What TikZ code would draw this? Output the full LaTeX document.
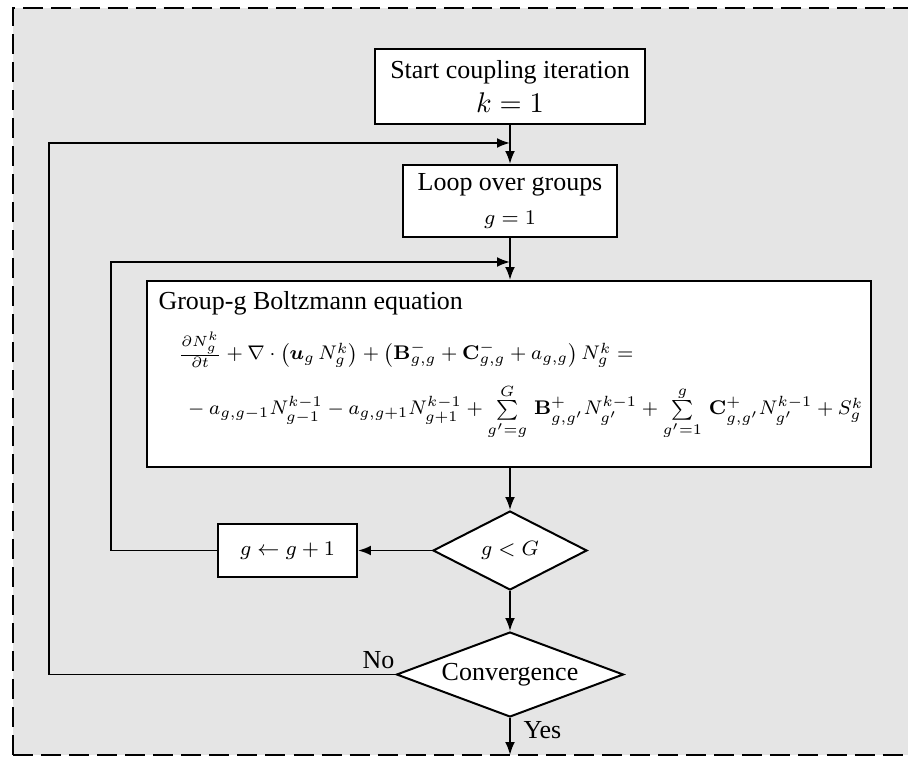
\documentclass[tikz,border=0pt]{standalone}
\usepackage{amsmath,amssymb}
\usepackage{graphicx}
\usepackage[no-math]{fontspec}
\setmainfont{Liberation Serif}
\usepackage{bm}
\usetikzlibrary{shapes.geometric,arrows.meta}
\definecolor{panelgrey}{HTML}{E5E5E5}

\begin{document}
\begin{tikzpicture}[x=0.385pt,y=-0.385pt,
  font=\fontsize{10}{12}\selectfont,
  box/.style={draw,line width=0.77pt,fill=white,inner sep=0pt,align=center},
  decision/.style={draw,line width=0.77pt,fill=white,shape=diamond,inner sep=0pt},
  flow/.style={line width=0.75pt,-{Latex[length=5pt,width=3.8pt]}},
  label/.style={inner sep=0pt},
  eqline/.style={inner sep=0pt,anchor=base west,font=\fontsize{8}{10}\selectfont}]

\useasboundingbox (0,0) rectangle (908,757);
\clip (0,0) rectangle (908,757);

% grey panel with dashed frame
\fill[panelgrey] (13,8) rectangle (940,755);
\draw[line width=0.77pt,dash pattern=on 7.7pt off 3.1pt] (13,755) -- (13,8) -- (940,8);
\draw[line width=0.77pt,dash pattern=on 7.7pt off 3.1pt] (13,755) -- (940,755);

% process boxes
\node[box,minimum width=103.6pt,minimum height=28.9pt] (start) at (510,86.5)
  {Start coupling iteration\\[1pt]{\fontsize{11}{13}\selectfont$k=1$}};
\node[box,minimum width=82.4pt,minimum height=27.7pt] (loop) at (510,201)
  {Loop over groups\\[1pt]{\fontsize{8}{10}\selectfont$g=1$}};
\node[box,minimum width=278.7pt,minimum height=71.6pt,anchor=north west] (group) at (146,280) {};
\node[label,anchor=west] (title) at (158,303) {Group-g Boltzmann equation};
\node[eqline] (eqa) at (178,360)
  {\scalebox{0.95}{$\frac{\partial N_g^k}{\partial t} + \nabla\cdot\bigl(\bm{u}_g\,N_g^k\bigr)
   + \bigl(\mathbf{B}^-_{g,g}+\mathbf{C}^-_{g,g}+a_{g,g}\bigr)\,N_g^k =$}};
\node[eqline] (eqb) at (183,415)
  {\scalebox{0.95}{${}-a_{g,g-1}N^{k-1}_{g-1} - a_{g,g+1}N^{k-1}_{g+1}
   + \sum\limits_{g'=g}^{G}\,\mathbf{B}^+_{g,g'}N^{k-1}_{g'}
   + \sum\limits_{g'=1}^{g}\,\mathbf{C}^+_{g,g'}N^{k-1}_{g'} + S_g^k$}};

% decisions and group increment
\node[decision,minimum width=59.3pt,minimum height=30.4pt,shape aspect=1.95] (test) at (510,550.5)
  {\fontsize{8}{10}\selectfont$g<G$};
\node[box,minimum width=53.5pt,minimum height=20.4pt] (incr) at (287.5,550.5)
  {\fontsize{8}{10}\selectfont$g\leftarrow g+1$};
\node[decision,minimum width=87.4pt,minimum height=32.7pt,shape aspect=2.67] (conv) at (510,674.5)
  {Convergence};
\node[label,anchor=east] (no) at (395,660) {No};
\node[label,anchor=west] (yes) at (523,730) {Yes};

% junctions of the loop-back lines
\coordinate (jk) at (510,143);
\coordinate (ck) at (49,143);
\coordinate (jg) at (510,262);
\coordinate (cg) at (111,262);
\coordinate (exit) at (510,755);

% connectors
\draw[flow] (start.south) -- (loop.north);
\draw[flow] (loop.south) -- (loop.south |- group.north);
\draw[flow] (group.south -| test.north) -- (test.north);
\draw[flow] (test.west) -- (incr.east);
\draw[flow] (test.south) -- (conv.north);
\draw[flow] (conv.south) -- (exit);
\draw[flow] (conv.west) -| (ck) -- (jk);
\draw[flow] (incr.west) -| (cg) -- (jg);
\end{tikzpicture}
\end{document}
